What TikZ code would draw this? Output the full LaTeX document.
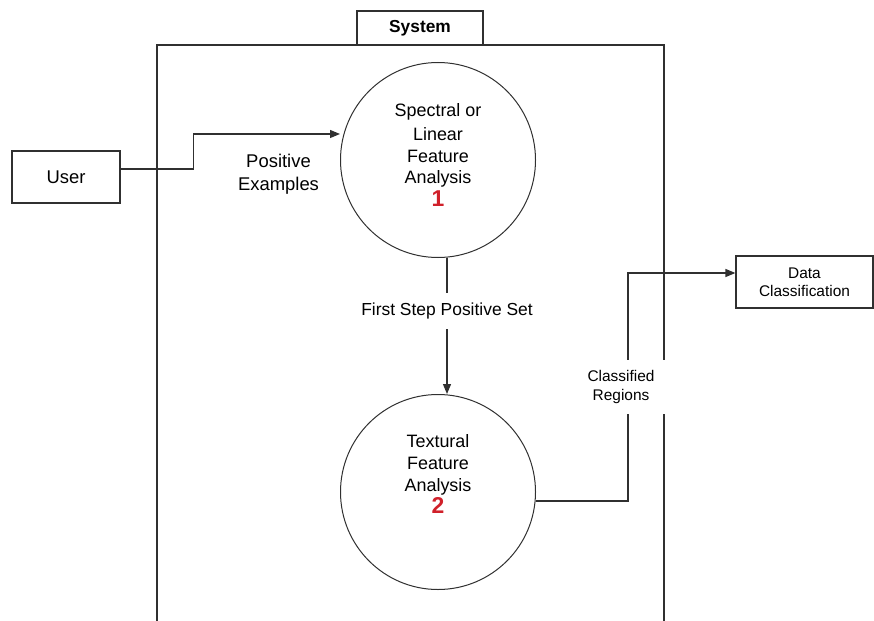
\documentclass[tikz,border=0pt]{standalone}
\usepackage{fontspec}
\setmainfont{Liberation Sans}
\usepackage{tikz}
\usetikzlibrary{arrows.meta,positioning}
\definecolor{LineGrey}{HTML}{303030}
\definecolor{ProcRed}{HTML}{D0202A}

\begin{document}
\begin{tikzpicture}[
    x=1bp, y=1bp,
    node distance=136bp,
    extent/.style={rectangle, draw=LineGrey, line width=1.2bp, minimum height=52bp, align=center},
    process/.style={circle, draw=LineGrey, line width=1bp, minimum size=195bp, inner sep=0pt, align=center, font=\fontsize{18}{22}\selectfont},
    flow/.style={-{Triangle[length=10bp, width=8bp]}, line width=1.2bp, color=LineGrey},
    flowlabel/.style={fill=white, text=black, align=center, inner xsep=2bp, inner ysep=10bp},
    frame/.style={line width=1.3bp, draw=LineGrey}
]
\useasboundingbox (0,0) rectangle (874,-621);

% System boundary
\draw[frame] (157,-630) |- (664,-45) -- (664,-630);
\node[extent, frame, minimum width=126bp, minimum height=34bp, fill=white, font=\fontsize{17.4}{20}\selectfont\bfseries] (system) at (420,-28) {System};

% Processes
\node[process] (spectral) at (438,-160) {Spectral or\\[2bp]Linear\\Feature\\Analysis\\[1bp]\textcolor{ProcRed}{\fontsize{23}{24}\selectfont\bfseries 1}\\[-12bp]\mbox{}};
\node[process, below=of spectral] (textural) {Textural\\Feature\\Analysis\\[1bp]\textcolor{ProcRed}{\fontsize{23}{24}\selectfont\bfseries 2}\\[14bp]\mbox{}};

% External entities
\node[extent, minimum width=108bp, font=\fontsize{18.5}{22}\selectfont] (user) at (66,-177) {User};
\node[extent, minimum width=137bp, font=\fontsize{15.5}{18}\selectfont] (data) at (804.5,-282) {Data\\Classification};

% Flows
\draw[flow] ([yshift=8bp]user.east) -- ++(73bp,0) |- node[pos=0.79, below=16bp, text=black, align=center, font=\fontsize{18.5}{23}\selectfont] {Positive\\Examples} ([yshift=26bp]spectral.west);
\draw[flow] ([xshift=9bp]spectral.south) -- node[pos=0.39, flowlabel, font=\fontsize{17.5}{20}\selectfont] {First Step Positive Set} ([xshift=9bp]textural.north);
\draw[flow] ([yshift=-9bp]textural.east) -- ++(92bp,0) |- node[pos=0.25, flowlabel, xshift=-7bp, minimum width=92bp, minimum height=53bp, font=\fontsize{15.5}{20}\selectfont] {Classified\\Regions} ([yshift=9bp]data.west);

\end{tikzpicture}
\end{document}
